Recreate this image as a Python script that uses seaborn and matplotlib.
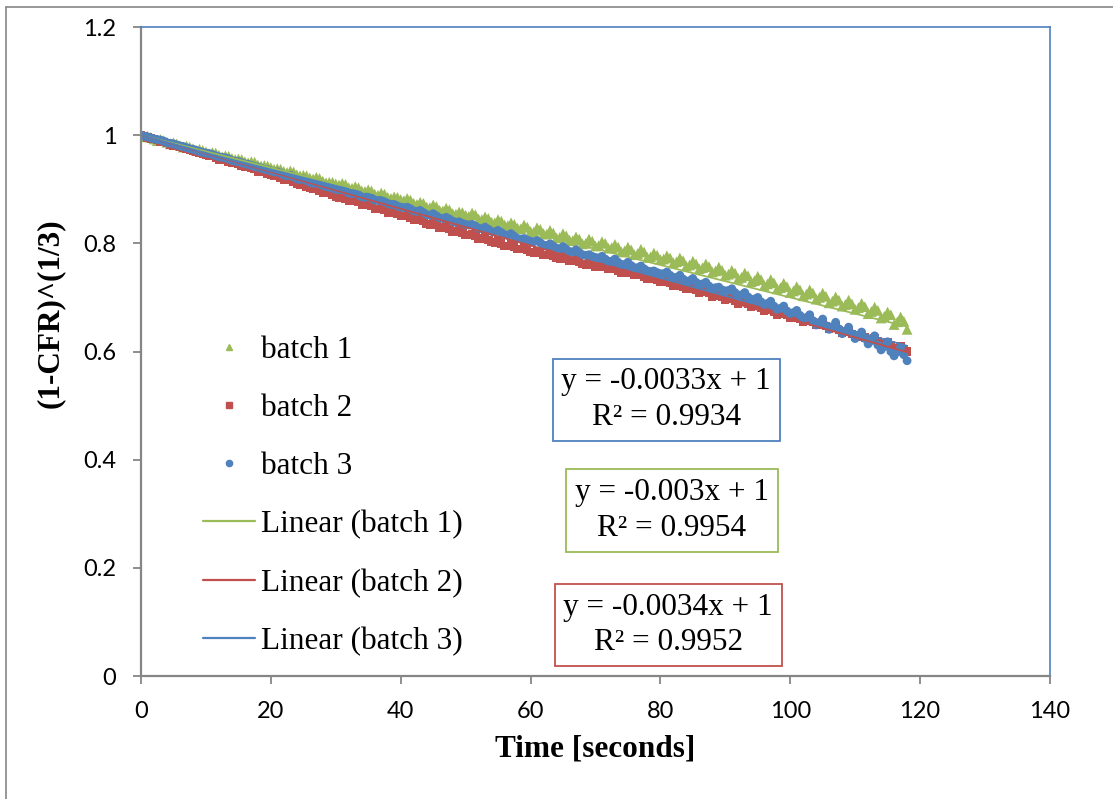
import matplotlib
matplotlib.use("Agg")
import matplotlib.pyplot as plt
from matplotlib.lines import Line2D
import numpy as np
import pandas as pd
import seaborn as sns

# ---- measured series: (1-CFR)^(1/3) sampled every half second ----
time_s = np.arange(0, 118.5, 0.5)

batch1 = [
    1.000, 0.997, 0.998, 0.996, 0.993, 0.990, 0.992, 0.990, 0.987, 0.984, 0.986, 0.984, 0.981, 0.978, 0.980, 0.978, 0.975, 0.972, 0.974, 0.972,
    0.969, 0.966, 0.968, 0.967, 0.963, 0.960, 0.962, 0.961, 0.957, 0.955, 0.956, 0.955, 0.951, 0.949, 0.951, 0.950, 0.945, 0.943, 0.944, 0.943,
    0.940, 0.937, 0.938, 0.937, 0.933, 0.931, 0.934, 0.932, 0.927, 0.925, 0.926, 0.925, 0.921, 0.919, 0.922, 0.920, 0.915, 0.912, 0.913, 0.913,
    0.910, 0.908, 0.911, 0.909, 0.903, 0.902, 0.905, 0.903, 0.897, 0.896, 0.899, 0.897, 0.891, 0.889, 0.893, 0.891, 0.885, 0.883, 0.886, 0.885,
    0.881, 0.879, 0.883, 0.880, 0.874, 0.872, 0.876, 0.874, 0.867, 0.866, 0.871, 0.868, 0.861, 0.860, 0.865, 0.862, 0.855, 0.854, 0.858, 0.857,
    0.852, 0.850, 0.856, 0.853, 0.845, 0.844, 0.849, 0.846, 0.839, 0.838, 0.844, 0.841, 0.834, 0.833, 0.838, 0.835, 0.828, 0.827, 0.834, 0.830,
    0.822, 0.821, 0.829, 0.826, 0.818, 0.817, 0.824, 0.819, 0.810, 0.811, 0.818, 0.814, 0.806, 0.805, 0.812, 0.808, 0.799, 0.800, 0.808, 0.804,
    0.795, 0.796, 0.803, 0.800, 0.791, 0.792, 0.798, 0.793, 0.784, 0.786, 0.793, 0.788, 0.779, 0.781, 0.789, 0.784, 0.774, 0.775, 0.782, 0.778,
    0.770, 0.771, 0.777, 0.773, 0.764, 0.766, 0.773, 0.768, 0.758, 0.760, 0.767, 0.762, 0.753, 0.755, 0.762, 0.757, 0.747, 0.749, 0.756, 0.750,
    0.741, 0.743, 0.750, 0.745, 0.735, 0.737, 0.745, 0.740, 0.729, 0.731, 0.739, 0.733, 0.722, 0.725, 0.733, 0.727, 0.716, 0.718, 0.726, 0.720,
    0.709, 0.712, 0.720, 0.714, 0.703, 0.706, 0.714, 0.708, 0.697, 0.700, 0.708, 0.702, 0.690, 0.693, 0.701, 0.695, 0.684, 0.687, 0.695, 0.688,
    0.678, 0.681, 0.689, 0.683, 0.670, 0.674, 0.682, 0.676, 0.662, 0.665, 0.673, 0.668, 0.650, 0.655, 0.664, 0.656, 0.641,
]

batch2 = [
    1.000, 0.998, 0.996, 0.994, 0.993, 0.991, 0.988, 0.987, 0.986, 0.983, 0.981, 0.980, 0.979, 0.976, 0.974, 0.973, 0.971, 0.969, 0.968, 0.966,
    0.963, 0.962, 0.961, 0.958, 0.955, 0.955, 0.954, 0.951, 0.948, 0.948, 0.947, 0.944, 0.941, 0.941, 0.940, 0.937, 0.933, 0.933, 0.932, 0.929,
    0.926, 0.925, 0.925, 0.921, 0.918, 0.917, 0.917, 0.913, 0.910, 0.909, 0.909, 0.905, 0.902, 0.901, 0.901, 0.897, 0.893, 0.893, 0.894, 0.890,
    0.886, 0.885, 0.887, 0.883, 0.879, 0.878, 0.880, 0.876, 0.871, 0.871, 0.873, 0.869, 0.864, 0.864, 0.866, 0.862, 0.857, 0.857, 0.859, 0.855,
    0.851, 0.850, 0.852, 0.848, 0.844, 0.843, 0.845, 0.841, 0.836, 0.835, 0.838, 0.834, 0.829, 0.828, 0.831, 0.827, 0.822, 0.821, 0.824, 0.820,
    0.816, 0.815, 0.817, 0.813, 0.809, 0.808, 0.811, 0.806, 0.802, 0.801, 0.805, 0.800, 0.795, 0.795, 0.799, 0.794, 0.789, 0.789, 0.793, 0.788,
    0.784, 0.783, 0.786, 0.782, 0.779, 0.778, 0.781, 0.777, 0.773, 0.772, 0.776, 0.771, 0.767, 0.767, 0.770, 0.766, 0.762, 0.761, 0.764, 0.760,
    0.757, 0.757, 0.760, 0.756, 0.752, 0.752, 0.755, 0.750, 0.746, 0.746, 0.750, 0.745, 0.741, 0.741, 0.744, 0.739, 0.735, 0.735, 0.738, 0.733,
    0.729, 0.729, 0.732, 0.727, 0.722, 0.722, 0.726, 0.720, 0.715, 0.716, 0.720, 0.714, 0.709, 0.710, 0.714, 0.708, 0.702, 0.703, 0.707, 0.701,
    0.696, 0.697, 0.700, 0.694, 0.689, 0.691, 0.695, 0.688, 0.682, 0.684, 0.688, 0.681, 0.675, 0.677, 0.681, 0.674, 0.668, 0.670, 0.674, 0.667,
    0.662, 0.663, 0.666, 0.660, 0.655, 0.657, 0.660, 0.654, 0.649, 0.650, 0.652, 0.647, 0.642, 0.643, 0.645, 0.640, 0.635, 0.636, 0.638, 0.633,
    0.627, 0.628, 0.631, 0.626, 0.620, 0.621, 0.624, 0.619, 0.613, 0.614, 0.617, 0.611, 0.606, 0.607, 0.609, 0.604, 0.600,
]

batch3 = [
    1.000, 0.998, 0.997, 0.995, 0.993, 0.992, 0.991, 0.989, 0.986, 0.985, 0.984, 0.982, 0.980, 0.979, 0.977, 0.975, 0.974, 0.972, 0.970, 0.968,
    0.967, 0.966, 0.964, 0.962, 0.960, 0.959, 0.958, 0.956, 0.953, 0.952, 0.951, 0.949, 0.947, 0.946, 0.944, 0.942, 0.941, 0.939, 0.937, 0.936,
    0.934, 0.932, 0.932, 0.930, 0.926, 0.925, 0.926, 0.923, 0.919, 0.918, 0.919, 0.916, 0.913, 0.911, 0.912, 0.910, 0.907, 0.905, 0.904, 0.902,
    0.900, 0.899, 0.900, 0.897, 0.893, 0.892, 0.893, 0.890, 0.886, 0.885, 0.887, 0.884, 0.880, 0.879, 0.880, 0.877, 0.874, 0.872, 0.872, 0.869,
    0.867, 0.866, 0.867, 0.864, 0.860, 0.859, 0.861, 0.857, 0.853, 0.852, 0.855, 0.851, 0.847, 0.846, 0.848, 0.845, 0.841, 0.839, 0.840, 0.837,
    0.835, 0.834, 0.835, 0.832, 0.828, 0.827, 0.830, 0.826, 0.822, 0.821, 0.824, 0.820, 0.816, 0.815, 0.818, 0.813, 0.809, 0.808, 0.809, 0.806,
    0.804, 0.803, 0.805, 0.801, 0.797, 0.796, 0.799, 0.795, 0.791, 0.790, 0.794, 0.789, 0.785, 0.784, 0.788, 0.783, 0.779, 0.778, 0.779, 0.776,
    0.774, 0.773, 0.776, 0.771, 0.767, 0.767, 0.771, 0.765, 0.761, 0.761, 0.765, 0.759, 0.755, 0.755, 0.758, 0.753, 0.749, 0.748, 0.749, 0.746,
    0.744, 0.744, 0.747, 0.741, 0.737, 0.737, 0.741, 0.734, 0.730, 0.731, 0.735, 0.728, 0.724, 0.725, 0.728, 0.721, 0.716, 0.718, 0.719, 0.714,
    0.712, 0.713, 0.716, 0.709, 0.704, 0.705, 0.709, 0.701, 0.696, 0.697, 0.700, 0.692, 0.687, 0.689, 0.693, 0.684, 0.678, 0.680, 0.684, 0.675,
    0.670, 0.672, 0.676, 0.667, 0.660, 0.663, 0.668, 0.657, 0.649, 0.654, 0.660, 0.648, 0.641, 0.646, 0.654, 0.642, 0.633, 0.638, 0.645, 0.633,
    0.624, 0.629, 0.636, 0.624, 0.614, 0.620, 0.629, 0.612, 0.603, 0.609, 0.618, 0.600, 0.592, 0.599, 0.608, 0.594, 0.583,
]

series_names = ["batch 1", "batch 2", "batch 3"]
fit_slopes = [-0.003, -0.0034, -0.0033]
fit_intercepts = [1.0, 1.0, 1.0]
fit_r2 = [0.9954, 0.9952, 0.9934]

x_ticks = [0, 20, 40, 60, 80, 100, 120, 140]
y_ticks = [0, 0.2, 0.4, 0.6, 0.8, 1.0, 1.2]
y_tick_labels = ["0", "0.2", "0.4", "0.6", "0.8", "1", "1.2"]

GREEN = "#9BBB59"
RED = "#C0504D"
BLUE = "#4F81BD"
GRAY = "#868686"
colors = [GREEN, RED, BLUE]
markers = ["^", "s", "o"]
marker_sizes = [60, 36, 40]

sns.set_style("white")
plt.rcParams["font.family"] = ["Liberation Serif", "DejaVu Serif"]
plt.rcParams["text.color"] = "black"
plt.rcParams["axes.labelcolor"] = "black"
plt.rcParams["xtick.color"] = "black"
plt.rcParams["ytick.color"] = "black"

fig = plt.figure(figsize=(11.13, 7.99), dpi=100)
ax = fig.add_axes([0.1267, 0.1539, 0.8166, 0.8123])

frames = []
for name, vals in zip(series_names, [batch1, batch2, batch3]):
    frames.append(pd.DataFrame({"t": time_s, "y": vals, "batch": name}))
df = pd.concat(frames, ignore_index=True)

for name, col, mk, sz in zip(series_names, colors, markers, marker_sizes):
    sub = df[df["batch"] == name]
    sns.scatterplot(data=sub, x="t", y="y", color=col, marker=mk, s=sz,
                    edgecolor="none", linewidth=0, ax=ax, zorder=2, legend=False)

# linear trend lines from the fitted coefficients
t_end = float(time_s.max())
for name, col, m, b in zip(series_names, colors, fit_slopes, fit_intercepts):
    tt = np.array([0, t_end])
    sns.lineplot(x=tt, y=m * tt + b, color=col, linewidth=1.3, ax=ax, zorder=3)

ax.set_xlim(0, 140)
ax.set_ylim(0, 1.2)
ax.set_xticks(x_ticks)
ax.set_yticks(y_ticks)
ax.set_xticklabels([str(v) for v in x_ticks], family="Lato", fontsize=17)
ax.set_yticklabels(y_tick_labels, family="Lato", fontsize=17)
ax.tick_params(axis="both", direction="out", length=5.8, width=1.3, color=GRAY,
               left=True, bottom=True, labelcolor="black")
ax.tick_params(axis="y", pad=12)
ax.tick_params(axis="x", pad=12)

for side in ["left", "bottom"]:
    ax.spines[side].set_color(GRAY)
    ax.spines[side].set_linewidth(1.6)
for side in ["top", "right"]:
    ax.spines[side].set_color(BLUE)
    ax.spines[side].set_linewidth(1.2)
ax.grid(False)

ax.set_xlabel("Time [seconds]", fontsize=22.5, fontweight="bold", labelpad=9)
ax.set_ylabel("(1-CFR)^(1/3)", fontsize=22.5, fontweight="bold")
ax.yaxis.set_label_coords(-0.084, 0.559)

# equation boxes
box_pos = {"batch 3": (80.9, 0.511), "batch 1": (81.8, 0.306), "batch 2": (81.2, 0.094)}
for name, col, m, b, r2 in zip(series_names, colors, fit_slopes, fit_intercepts, fit_r2):
    txt = f"y = {m:g}x + {b:g}\nR\u00b2 = {r2:.4f}"
    bx, by = box_pos[name]
    ax.text(bx, by, txt, ha="center", va="center", fontsize=22.5,
            multialignment="center", linespacing=1.3, zorder=5,
            bbox=dict(boxstyle="square,pad=0.28", fc="white", ec=col, lw=1.3))

handles = [
    Line2D([], [], linestyle="none", marker="^", color=GREEN, markersize=5),
    Line2D([], [], linestyle="none", marker="s", color=RED, markersize=4.5),
    Line2D([], [], linestyle="none", marker="o", color=BLUE, markersize=4.5),
    Line2D([], [], color=GREEN, lw=1.6),
    Line2D([], [], color=RED, lw=1.6),
    Line2D([], [], color=BLUE, lw=1.6),
]
labels = series_names + [f"Linear ({n})" for n in series_names]
ax.legend(handles, labels, loc="upper left", bbox_to_anchor=(0.068, 0.524),
          frameon=False, fontsize=22.5, handlelength=1.66, handletextpad=0.2,
          labelspacing=0.93, borderpad=0, borderaxespad=0)

# outer chart border
fig.add_artist(Line2D([0.0054, 0.0054], [0.0, 0.9912], transform=fig.transFigure,
                      color=GRAY, lw=1.2))
fig.add_artist(Line2D([0.0054, 1.0], [0.9912, 0.9912], transform=fig.transFigure,
                      color=GRAY, lw=1.2))

fig.savefig("out.png", dpi=100)
